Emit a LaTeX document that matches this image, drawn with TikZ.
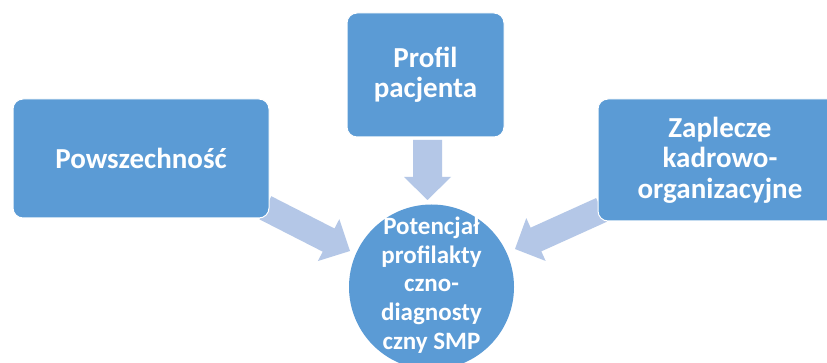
\documentclass[tikz,border=0pt]{standalone}
\usepackage{fontspec}
\setmainfont{Carlito}
\usetikzlibrary{calc}
\definecolor{boxblue}{HTML}{5B9BD5}
\definecolor{arrowblue}{HTML}{B4C7E7}
\newcommand\blkarrow[5]{%
  \coordinate (ab) at ($(#2)!#5!(#1)$);
  \fill[arrowblue] ($(#1)!#3!90:(#2)$) -- ($(ab)!#3!-90:(#1)$) -- ($(ab)!#4!-90:(#1)$) -- (#2)
    -- ($(ab)!#4!90:(#1)$) -- ($(ab)!#3!90:(#1)$) -- ($(#1)!#3!-90:(#2)$) -- cycle;}
\tikzset{
  box/.style={rectangle, rounded corners=10pt, fill=boxblue, draw=white, line width=1pt,
    inner sep=0pt, outer sep=0pt, text=white, align=center,
    font=\bfseries\fontsize{29}{30.5}\selectfont},
  circ/.style={circle, fill=boxblue, draw=none, inner sep=0pt, minimum size=165pt},
  ctext/.style={text=white, align=center, inner sep=0pt,
    font=\bfseries\fontsize{25}{28.8}\selectfont}
}
\begin{document}
\begin{tikzpicture}[x=1pt,y=-1pt]
\useasboundingbox (0,0) rectangle (827,363);
\clip (0,0) rectangle (827,363);
\fill[white] (0,0) rectangle (827,363);
% arrow end points
\coordinate (s1) at (427.5,140);
\coordinate (t1) at (427.5,200);
\coordinate (s2) at (265.4,207.8);
\coordinate (t2) at (350,251);
\coordinate (s3) at (601.5,209.9);
\coordinate (t3) at (515,249);
\blkarrow{s1}{t1}{14.5pt}{23.5pt}{23pt}
\blkarrow{s2}{t2}{13pt}{23.5pt}{24pt}
\blkarrow{s3}{t3}{13pt}{23.5pt}{23pt}
% nodes
\node[box, minimum width=157pt, minimum height=124pt] (top) at (425.5,75) {Profil\\pacjenta};
\node[box, minimum width=256pt, minimum height=119pt] (left) at (141,158.5) {Powszechność};
\node[box, minimum width=244pt, minimum height=122pt] (right) at (720,160) {Zaplecze\\kadrowo-\\organizacyjne};
\node[circ] (c) at (431.5,287) {};
\node[ctext] (ctxt) at ([yshift=2pt]c.center) {Potencjał\\profilakty\\czno-\\diagnosty\\czny SMP};
\end{tikzpicture}
\end{document}
